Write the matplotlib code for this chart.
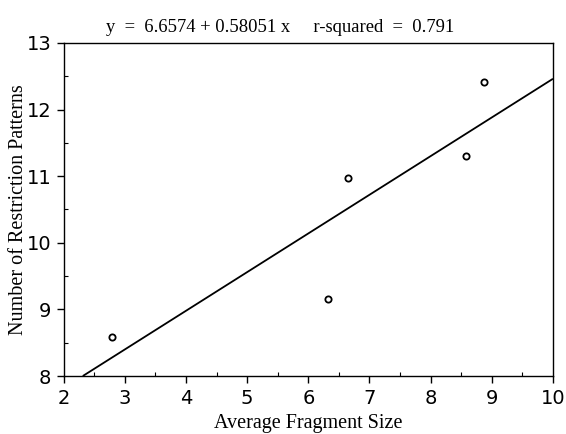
import matplotlib
matplotlib.use("Agg")
import matplotlib.pyplot as plt
import numpy as np
from matplotlib.ticker import MultipleLocator

avg_fragment_size = [2.79, 6.32, 6.65, 8.58, 8.88]
num_patterns = [8.585, 9.15, 10.98, 11.31, 12.42]
intercept = 6.6574
slope = 0.58051
r_squared = 0.791
x_ticks = [2, 3, 4, 5, 6, 7, 8, 9, 10]
y_ticks = [8, 9, 10, 11, 12, 13]

fig = plt.figure(figsize=(5.66, 4.34), dpi=100)
ax = fig.add_axes([0.1125, 0.1336, 0.8645, 0.7674])

xmin, xmax = 2, 10
ymin, ymax = 8, 13
x0 = (ymin - intercept) / slope
xl = np.array([x0, xmax])
ax.plot(xl, intercept + slope * xl, color="black", lw=1.3, solid_capstyle="butt")
ax.plot(avg_fragment_size, num_patterns, linestyle="none", marker="o",
        markersize=4.5, markerfacecolor="white", markeredgecolor="black", markeredgewidth=1.3)

ax.set_xlim(xmin, xmax)
ax.set_ylim(ymin, ymax)
ax.set_xticks(x_ticks)
ax.set_yticks(y_ticks)
ax.xaxis.set_minor_locator(MultipleLocator(0.5))
ax.yaxis.set_minor_locator(MultipleLocator(0.5))
ax.tick_params(which="major", direction="out", length=5, width=1.0, pad=4)
ax.tick_params(which="minor", direction="in", length=3, width=0.8)
tickfont = ["Liberation Sans Narrow", "DejaVu Sans Condensed", "DejaVu Sans"]
for lab in ax.get_xticklabels() + ax.get_yticklabels():
    lab.set_fontfamily(tickfont)
    lab.set_fontsize(14)
for s in ax.spines.values():
    s.set_linewidth(1.0)

serif = ["Liberation Serif", "DejaVu Serif"]
ax.set_title(f"y  =  {intercept} + {slope} x     r-squared  =  {r_squared}",
             fontfamily=serif, fontsize=13.4, pad=8, x=0.442)
ax.set_xlabel("Average Fragment Size", fontfamily=serif, fontsize=14.5, labelpad=5)
ax.set_ylabel("Number of Restriction Patterns", fontfamily=serif, fontsize=14.5)
ax.yaxis.set_label_coords(-0.073, 0.5)

fig.savefig("out.png", dpi=100)
